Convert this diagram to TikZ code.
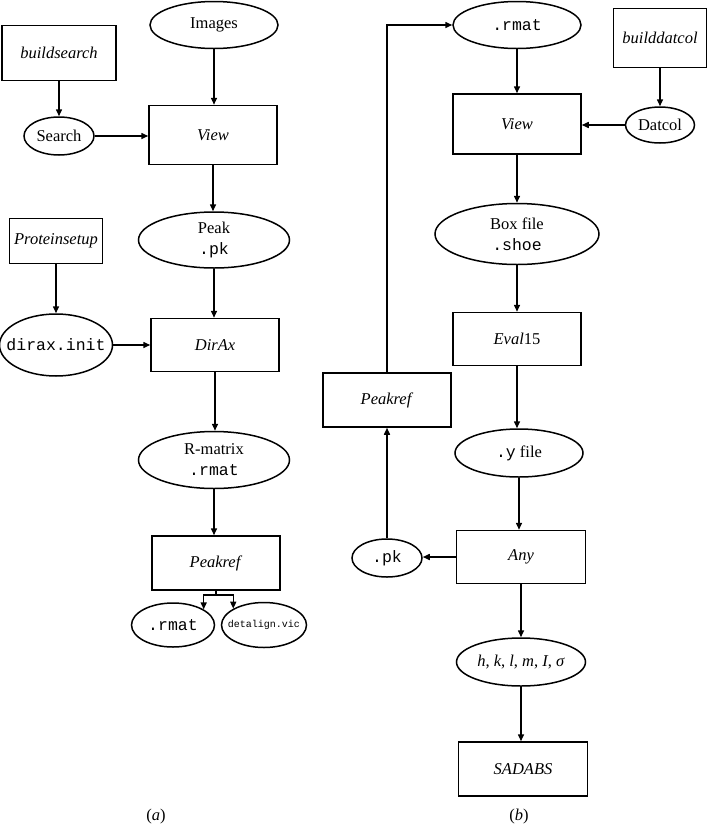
\documentclass[tikz,border=0pt]{standalone}
\usepackage{fontspec}
\setmainfont{Liberation Serif}
\setmonofont{Liberation Mono}
\usetikzlibrary{shapes.geometric,arrows.meta}
\newcommand{\zw}[1]{\makebox[0pt]{#1}}
\begin{document}
\begin{tikzpicture}[x=1pt,y=-1pt,
  every node/.style={font=\fontsize{16.5}{21}\selectfont, inner sep=0pt},
  box/.style={draw, line width=1.5pt, rectangle, align=center},
  oval/.style={draw, line width=1.5pt, ellipse, align=center},
  arr/.style={line width=1.5pt, -{Triangle[length=7pt,width=6pt]}},
  ln/.style={line width=1.5pt}]
\useasboundingbox (0,0) rectangle (708,825);
% ---------- (a) ----------
\node[box, minimum width=114pt, minimum height=55pt] (bs) at (59,53) {\textit{buildsearch}};
\node[oval, minimum width=128pt, minimum height=47pt] (img) at (214,25) {\zw{Images}};
\node[oval, minimum width=70pt, minimum height=38pt] (srch) at (59,136) {\zw{Search}};
\node[box, minimum width=128pt, minimum height=59pt] (view) at (213,135) {\textit{View}};
\node[oval, minimum width=151pt, minimum height=56pt] (peak) at (214,240) {\zw{Peak}\\\zw{\texttt{.pk}}};
\node[box, minimum width=93pt, minimum height=45pt] (ps) at (56,241) {\textit{Proteinsetup}};
\node[oval, minimum width=113pt, minimum height=62pt] (dinit) at (56,345) {\zw{\texttt{dirax.init}}};
\node[box, minimum width=128pt, minimum height=53pt] (dirax) at (215,345) {\textit{DirAx}};
\node[oval, minimum width=151pt, minimum height=57pt] (rm) at (214,460) {\zw{R-matrix}\\\zw{\texttt{.rmat}}};
\node[box, minimum width=128pt, minimum height=54pt] (pr) at (216,563) {\textit{Peakref}};
\node[oval, minimum width=83pt, minimum height=44pt] (rmat2) at (173,625) {\zw{\texttt{.rmat}}};
\node[oval, minimum width=85pt, minimum height=45pt] (det) at (264,625) {\zw{\fontsize{10}{12}\selectfont\texttt{detalign.vic}}};
\node (capa) at (156,817) {(\textit{a})};

\draw[arr] (bs) -- (srch);
\draw[arr] (img) -- (img |- view.north);
\draw[arr] (srch) -- (srch -| view.west);
\draw[arr] (view) -- (view |- peak.north);
\draw[arr] (ps) -- (dinit);
\draw[arr] (peak) -- (peak |- dirax.north);
\draw[arr] (dinit) -- (dinit -| dirax.west);
\draw[arr] (dirax) -- (dirax |- rm.north);
\draw[arr] (rm) -- (rm |- pr.north);
\draw[ln] (pr.south) -- ++(0,4) coordinate (fk);
\draw[arr] (fk) -| (rmat2.27);
\draw[arr] (fk) -| (det.152);

% ---------- (b) ----------
\node[oval, minimum width=128pt, minimum height=47pt] (rmatR) at (517,25) {\zw{\texttt{.rmat}}};
\node[box, minimum width=93pt, minimum height=59pt] (bd) at (660,38) {\textit{builddatcol}};
\node[box, minimum width=128pt, minimum height=60pt] (viewR) at (517,124) {\textit{View}};
\node[oval, minimum width=69pt, minimum height=36pt] (datcol) at (660,125) {\zw{Datcol}};
\node[oval, minimum width=164pt, minimum height=61pt] (boxf) at (517,234) {\zw{Box file}\\\zw{\texttt{.shoe}}};
\node[box, minimum width=128pt, minimum height=53pt] (eval) at (517,339) {\textit{Eval}15};
\node[box, minimum width=128pt, minimum height=54pt] (prR) at (387,400) {\textit{Peakref}};
\node[oval, minimum width=128pt, minimum height=48pt] (yf) at (519,453) {\zw{\texttt{.y} file}};
\node[box, minimum width=129pt, minimum height=53pt] (any) at (521,557) {\textit{Any}};
\node[oval, minimum width=70pt, minimum height=38pt] (pk) at (387,558) {\zw{\texttt{.pk}}};
\node[oval, minimum width=129pt, minimum height=48pt] (hkl) at (521,662) {\zw{\textit{h}, \textit{k}, \textit{l}, \textit{m}, \textit{I}, \textit{σ}}};
\node[box, minimum width=129pt, minimum height=54pt] (sad) at (523,769) {\textit{SADABS}};
\node (capb) at (519,817) {(\textit{b})};

\draw[arr] (rmatR) -- (rmatR |- viewR.north);
\draw[arr] (bd) -- (datcol);
\draw[arr] (datcol) -- (datcol -| viewR.east);
\draw[arr] (viewR) -- (viewR |- boxf.north);
\draw[arr] (boxf) -- (boxf |- eval.north);
\draw[arr] (eval) -- (eval |- yf.north);
\draw[arr] (yf) -- (yf |- any.north);
\draw[arr] (any) -- (any -| pk.east);
\draw[arr] (pk) -- (prR);
\draw[arr] (prR.north) |- (rmatR.west);
\draw[arr] (any) -- (any |- hkl.north);
\draw[arr] (hkl) -- (hkl |- sad.north);
\end{tikzpicture}
\end{document}
